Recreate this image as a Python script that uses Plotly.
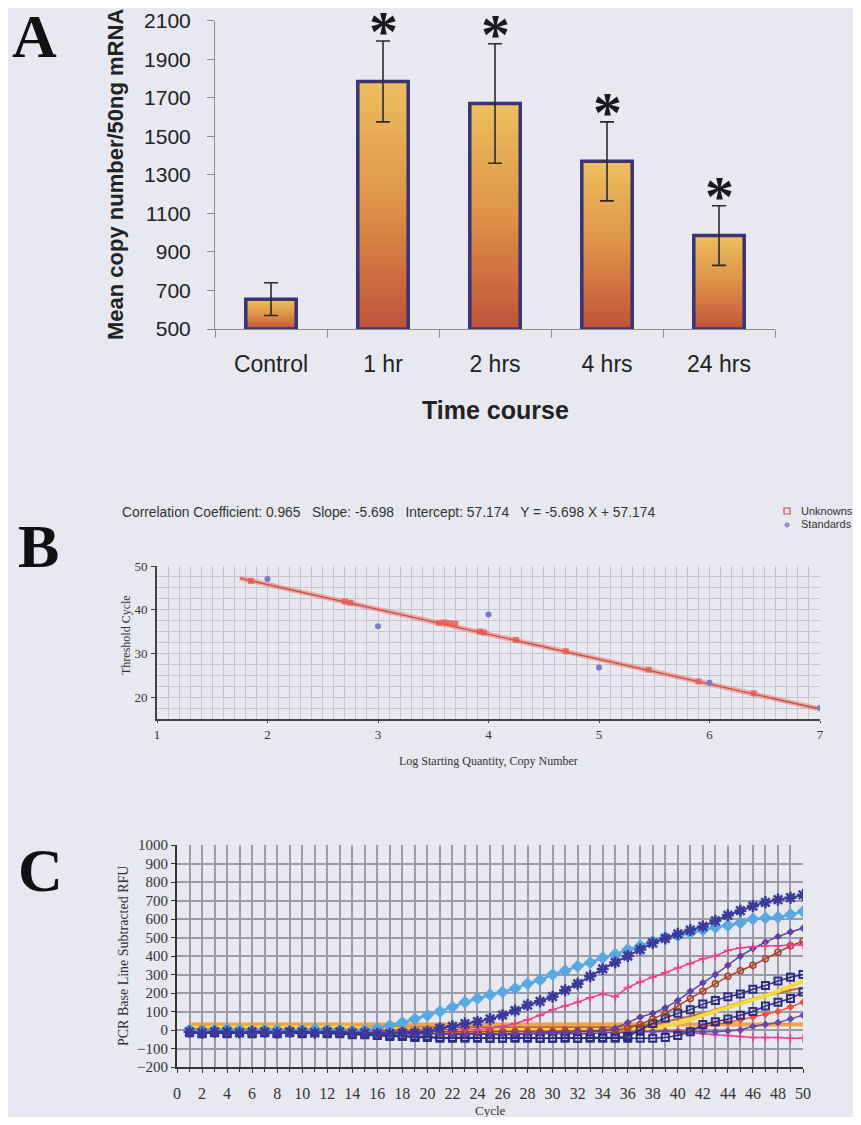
import plotly.graph_objects as go

# ---------------- Panel A data ----------------
categories = ["Control", "1 hr", "2 hrs", "4 hrs", "24 hrs"]
mean_copy = [655, 1785, 1670, 1370, 985]
sem_copy = [85, 210, 310, 205, 155]
significant = [False, True, True, True, True]
a_yticks = [500, 700, 900, 1100, 1300, 1500, 1700, 1900, 2100]

# ---------------- Panel B data ----------------
corr_coef = 0.965
slope = -5.698
intercept = 57.174
std_x = [2, 3, 4, 5, 6, 7]
std_y = [47.0, 36.2, 38.9, 26.8, 23.3, 17.5]
unk_x = [1.85, 2.7, 2.75, 3.55, 3.6, 3.65, 3.7, 3.92, 3.96, 4.25, 4.7, 5.45, 5.9, 6.4]
unk_y = [46.6, 41.9, 41.6, 37.0, 37.1, 36.9, 36.8, 35.0, 34.8, 33.1, 30.5, 26.3, 23.6, 20.9]
fit_x = [1.75, 7.0]

# ---------------- Panel C data ----------------
cycles = list(range(1, 51))
rfu_lightblue = [0, -5, 0, 5, 0, -5, 0, 0, -5, 0, 5, 0, 0, -5, 0,
                 10, 25, 40, 60, 80, 100, 125, 150, 170, 190, 205, 225, 250, 270, 300,
                 320, 345, 365, 390, 410, 435, 455, 480, 500, 510, 525, 540, 555, 565, 580,
                 600, 605, 610, 625, 640]
rfu_navystar = [-10, -15, -10, -10, -15, -10, -10, -15, -10, -10, -15, -10, -10, -15, -15,
                -20, -20, -15, -15, -10,
                10, 20, 35, 45, 60, 80, 105, 135, 155, 180, 215, 250, 290, 330, 365,
                400, 435, 470, 495, 520, 540, 560, 590, 620, 645, 670, 690, 705, 715, 730]
rfu_pinkrise = [5, 0, 0, 5, 0, 0, 5, 0, 0, 0, 5, 0, 0, 0, 5, 0, 0, 0, 0, 0, 5, 0, 5, 0,
                10, 20, 35, 55, 80, 110, 130, 150, 175, 195, 180, 230, 260, 285, 310,
                335, 360, 385, 400, 430, 445, 450, 455, 455, 460, 460]
rfu_purple = [-10, -10, -5, -10, -10, -5, -10, -10, -10, -5,
              -10, -10, -10, -5, -10, -15, -15, -20, -20, -20,
              -20, -25, -25, -20, -20, -20, -20, -20, -15, -15,
              -15, -10, -10, -5,
              10, 40, 70, 90, 120, 160, 210, 255, 300, 350, 400, 440, 475, 505, 530, 550]
rfu_brown = [0, 5, 0, 0, 5, 0, 0, 5, 0, 0,
             0, 5, 0, 0, 0, -5, -5, -5, -10, -10,
             -10, -10, -10, -10, -10, -10, -10, -10, -10, -10,
             -5, -5, -5, 0, 0, 10,
             30, 60, 90, 130, 170, 210, 250, 290, 320, 350, 385, 420, 455, 480]
rfu_square1 = [-10, -15, -10, -15, -10, -15, -10, -15, -10, -15,
               -10, -15, -15, -20, -20, -25, -30, -30, -35, -35,
               -40, -40, -40, -40, -45, -45, -40, -40, -45, -45,
               -40, -45, -40, -40, -40, -35, 0, 35, 65, 90,
               110, 140, 160, 180, 195, 220, 240, 265, 285, 300]
rfu_square2 = [-15, -20, -15, -20, -15, -20, -15, -20, -15, -20,
               -15, -20, -20, -25, -25, -30, -35, -35, -40, -40,
               -45, -45, -45, -45, -45, -45, -45, -45, -45, -45,
               -45, -45, -45, -45, -45, -45, -45, -45, -40, -30,
               -10, 30, 45, 60, 80, 100, 130, 150, 170, 205]
rfu_yellow = [15, 10, 15, 10, 15, 10, 15, 10, 15, 10,
              15, 10, 15, 10, 10, 5, 5, 5, 0, 0,
              0, -5, -5, -5, -5, -5, -5, -5, -5, -5,
              -5, -5, 0, 0, 0, 5, 5,
              10, 20, 35, 55, 80, 100, 120, 140, 160, 185, 210, 240, 265]
rfu_redorange = [0, 5, 0, 0, 0, 5, 0, 0, 0, 0,
                 0, 0, 5, 0, 0, -5, -5, -5, -5, -5,
                 -10, -10, -10, -10, -5, -5, -5, -5, -5, -5,
                 -5, -5, -5, -5, -5, -5, -5, -5, -5, -5,
                 0, 20, 30, 40, 55, 70, 85, 100, 125, 150]
rfu_purplelow = [-10, -5, -10, -5, -10, -5, -10, -5, -10, -5,
                 -10, -5, -10, -10, -15, -15, -15, -20, -20, -20,
                 -20, -20, -20, -20, -25, -25, -25, -20, -20, -20,
                 -20, -20, -20, -15, -15, -15, -10, -10, -10, -10,
                 -10, -10, -10, -5, 0, 20, 30, 40, 60, 80]
rfu_pinkdown = [0, 0, 5, 0, 0, 5, 0, 0, 5, 0,
                0, 5, 0, 0, 5, 0, 0, 0, 0, 0,
                0, 0, -5, -5, -5, -5, -5, -5, -5, -5,
                -5, -5, -5, -5, -5, -5, -5, -5, -5, -10,
                -15, -20, -25, -30, -35, -40, -40, -40, -45, -45]
rfu_orangeflat = [30, 30, 30, 30, 30, 30, 30, 30, 30, 30,
                  30, 30, 30, 30, 30, 25, 25, 25, 25, 25,
                  25, 25, 25, 25, 25, 25, 25, 25, 25, 25,
                  25, 25, 25, 25, 25, 25, 25, 25, 25, 25,
                  25, 25, 25, 25, 25, 25, 30, 30, 30, 30]
rfu_darkorange = [15, 15, 15, 15, 15, 15, 15, 15, 15, 15,
                  15, 15, 15, 15, 15, 15, 15, 15, 15, 15,
                  15, 15, 15, 15, 15, 15, 15, 15, 15, 15,
                  15, 15, 15, 15, 15, 20, 25, 30, 45, 60,
                  75, 90, 110, 130, 150, 170, 185, 200, 215, 230]

# ---------------- helpers ----------------
# page body has an 8px margin, so the figure is drawn 16px smaller than the window
OFF = 8
W, H = 861 - 2 * OFF, 1125 - 2 * OFF
BG = "#e8e8f0"


def px_x(x):
    return (x - OFF) / W


def px_y(y):
    return 1 - (y - OFF) / H


def lerp_color(f):
    stops = [(0.0, (192, 82, 58)), (0.5, (222, 146, 72)), (1.0, (236, 192, 94))]
    for (f0, c0), (f1, c1) in zip(stops[:-1], stops[1:]):
        if f0 <= f <= f1:
            t = (f - f0) / (f1 - f0)
            return "rgb(%d,%d,%d)" % tuple(round(a + (b - a) * t) for a, b in zip(c0, c1))
    return "rgb(%d,%d,%d)" % stops[-1][1]


fig = go.Figure()

# ---------------- Panel A ----------------
a_base = a_yticks[0]
N = 40
for k in range(N):
    lo = k / N
    hi = min(k + 1.8, N) / N
    fig.add_trace(go.Bar(
        x=categories,
        y=[(v - a_base) * (hi - lo) for v in mean_copy],
        base=[a_base + (v - a_base) * lo for v in mean_copy],
        width=0.45,
        marker=dict(color=lerp_color((k + 0.5) / N), line=dict(width=0)),
        xaxis="x", yaxis="y", hoverinfo="skip", showlegend=False))
fig.add_trace(go.Bar(
    x=categories, y=[v - a_base for v in mean_copy], base=a_base, width=0.45,
    marker=dict(color="rgba(0,0,0,0)", line=dict(color="#3b3275", width=3.5)),
    xaxis="x", yaxis="y", showlegend=False))
fig.add_trace(go.Scatter(
    x=categories, y=mean_copy, mode="markers", marker=dict(opacity=0),
    error_y=dict(type="data", array=sem_copy, color="#2a2a2a", thickness=1.6, width=7),
    xaxis="x", yaxis="y", showlegend=False))

annotations = []
for c, v, e, s in zip(categories, mean_copy, sem_copy, significant):
    if s:
        annotations.append(dict(x=c, y=v + e, xref="x", yref="y", text="<b>*</b>",
                                showarrow=False, xanchor="center", yanchor="bottom", yshift=-25,
                                font=dict(family="Liberation Serif", size=58, color="#1a1a1a")))

# ---------------- Panel B ----------------
fit_y = [slope * x + intercept for x in fit_x]
fig.add_trace(go.Scatter(x=fit_x, y=fit_y, mode="lines",
                         line=dict(color="rgba(240,120,110,0.55)", width=5),
                         xaxis="x2", yaxis="y2", showlegend=False))
fig.add_trace(go.Scatter(x=fit_x, y=fit_y, mode="lines",
                         line=dict(color="#c0504a", width=1.4),
                         xaxis="x2", yaxis="y2", showlegend=False))
fig.add_trace(go.Scatter(x=unk_x, y=unk_y, mode="markers",
                         marker=dict(symbol="square", size=6, color="rgba(230,90,80,0.8)"),
                         xaxis="x2", yaxis="y2", showlegend=False))
fig.add_trace(go.Scatter(x=std_x, y=std_y, mode="markers",
                         marker=dict(symbol="circle", size=6, color="#7a78c8"),
                         xaxis="x2", yaxis="y2", showlegend=False))

# ---------------- Panel C ----------------
c_series = [
    (rfu_orangeflat, dict(color="rgba(240,150,50,0.85)", width=4), None),
    (rfu_darkorange, dict(color="#c8642c", width=2), None),
    (rfu_pinkdown, dict(color="#e0409a", width=1.5), dict(symbol="cross-thin-open", size=6, line=dict(width=1.5, color="#e0409a"))),
    (rfu_yellow, dict(color="#f0dc3c", width=4), None),
    (rfu_redorange, dict(color="#f0503c", width=1.5), dict(symbol="diamond", size=6, color="#f0503c")),
    (rfu_purplelow, dict(color="#6a4aa8", width=1.5), dict(symbol="diamond", size=6, color="#6a4aa8")),
    (rfu_square2, dict(color="#2c2c80", width=1.5), dict(symbol="square-open", size=7, line=dict(width=2, color="#2c2c80"))),
    (rfu_square1, dict(color="#2c2c80", width=1.5), dict(symbol="square-open", size=7, line=dict(width=2, color="#2c2c80"))),
    (rfu_brown, dict(color="#a8402c", width=1.5), dict(symbol="circle-open", size=6, line=dict(width=1.5, color="#a8402c"))),
    (rfu_purple, dict(color="#6040a0", width=1.5), dict(symbol="diamond", size=6, color="#6040a0")),
    (rfu_pinkrise, dict(color="#e8408c", width=1.5), dict(symbol="cross-thin-open", size=6, line=dict(width=1.5, color="#e8408c"))),
    (rfu_lightblue, dict(color="#5aa8e0", width=2.5), dict(symbol="diamond", size=10, color="#5aa8e0")),
    (rfu_navystar, dict(color="#3a3a9a", width=2), dict(symbol="asterisk-open", size=10, line=dict(width=2.5, color="#3a3a9a"))),
]
for vals, line, marker in c_series:
    fig.add_trace(go.Scatter(x=cycles, y=vals, mode="lines+markers" if marker else "lines",
                             line=line, marker=marker or {}, xaxis="x3", yaxis="y3",
                             showlegend=False))


# ---------------- text ----------------
def label(x, y, text, font, angle=0, xanchor="center"):
    return dict(x=px_x(x), y=px_y(y), xref="paper", yref="paper", text=text, textangle=angle,
                showarrow=False, xanchor=xanchor, yanchor="middle", font=font)


letter_font = dict(family="Liberation Serif", size=62, color="#111")
narrow = dict(family="Liberation Sans Narrow, Liberation Sans", size=13.8, color="#333")
legend_font = dict(family="Liberation Sans Narrow, Liberation Sans", size=11, color="#333")
serif12 = dict(family="Liberation Serif", size=12, color="#333")
serif14 = dict(family="Liberation Serif", size=14, color="#333")

annotations += [
    label(34, 36, "<b>A</b>", letter_font),
    label(38, 546, "<b>B</b>", letter_font),
    label(40, 870, "<b>C</b>", letter_font),
    label(115, 175, "<b>Mean copy number/50ng mRNA</b>",
          dict(family="Liberation Sans", size=22, color="#222"), angle=-90),
    label(495, 410, "<b>Time course</b>", dict(family="Liberation Sans", size=25, color="#222")),
    label(120, 512, "Correlation Coefficient: %.3f   Slope: %.3f   Intercept: %.3f   Y = %.3f X + %.3f"
          % (corr_coef, slope, intercept, slope, intercept), narrow, xanchor="left"),
    label(799, 511, "Unknowns", legend_font, xanchor="left"),
    label(799, 524, "Standards", legend_font, xanchor="left"),
    label(126, 635, "Threshold Cycle", serif12, angle=-90),
    label(488, 761, "Log Starting Quantity, Copy Number", serif12),
    label(123, 956, "PCR Base Line Subtracted RFU", serif14, angle=-90),
    label(490, 1110, "Cycle", dict(family="Liberation Serif", size=13, color="#333")),
]

shapes = [
    dict(type="rect", xref="paper", yref="paper", x0=px_x(784), x1=px_x(790), y0=px_y(514), y1=px_y(508),
         line=dict(color="#d04050", width=1.2), fillcolor="rgba(0,0,0,0)"),
    dict(type="circle", xref="paper", yref="paper", x0=px_x(785), x1=px_x(789), y0=px_y(527), y1=px_y(523),
         line=dict(color="#7a78c8", width=1), fillcolor="#9a98d8"),
]

cat_tick = dict(family="Liberation Sans", size=23, color="#222")
val_tick = dict(family="Liberation Sans", size=21, color="#222")
serif_tick = dict(family="Liberation Serif", size=13, color="#333")

fig.update_layout(
    width=W, height=H, margin=dict(l=0, r=0, t=0, b=0, autoexpand=False),
    paper_bgcolor=BG, plot_bgcolor=BG, barmode="overlay", showlegend=False,
    annotations=annotations, shapes=shapes,
    xaxis=dict(domain=[px_x(215), px_x(775)], anchor="y", type="category", automargin=False,
               showline=True, linecolor="#8a8a8a", linewidth=1, ticks="outside", tickson="boundaries",
               ticklen=8, tickcolor="#8a8a8a", tickfont=cat_tick, ticklabelstandoff=14, showgrid=False),
    yaxis=dict(domain=[px_y(329), px_y(20.7)], anchor="x", range=[a_yticks[0], a_yticks[-1]],
               tickvals=a_yticks, showline=True, linecolor="#8a8a8a", linewidth=1, ticks="outside",
               ticklen=7, tickcolor="#8a8a8a", tickfont=val_tick, ticklabelstandoff=12,
               showgrid=False, zeroline=False, automargin=False),
    xaxis2=dict(domain=[px_x(157), px_x(820)], anchor="y2", range=[1, 7], dtick=1, automargin=False,
                showline=True, linecolor="#444", linewidth=2, ticks="outside", ticklen=2, tickcolor="#444",
                showgrid=True, gridcolor="#c4c4cc", gridwidth=1,
                minor=dict(dtick=0.1, showgrid=True, gridcolor="#c4c4cc", gridwidth=1),
                tickfont=serif_tick, ticklabelstandoff=0, zeroline=False),
    yaxis2=dict(domain=[px_y(719), px_y(566)], anchor="x2", range=[15, 50], tickvals=[20, 30, 40, 50],
                showline=True, linecolor="#444", linewidth=2, ticks="outside", ticklen=4, tickcolor="#444",
                showgrid=True, gridcolor="#c4c4cc", gridwidth=1, automargin=False,
                minor=dict(dtick=2.5, tick0=15, showgrid=True, gridcolor="#c4c4cc", gridwidth=1),
                tickfont=serif_tick, ticklabelstandoff=1, zeroline=False),
    xaxis3=dict(domain=[px_x(177), px_x(803)], anchor="y3", range=[0, 50], dtick=2, automargin=False,
                showline=True, linecolor="#333", linewidth=2, ticks="outside", ticklen=4, tickcolor="#333",
                showgrid=True, gridcolor="#9c9ca6", gridwidth=1.5,
                minor=dict(dtick=1, showgrid=True, gridcolor="#9c9ca6", gridwidth=1.5, ticks="outside",
                           ticklen=3, tickcolor="#333"),
                tickfont=dict(family="Liberation Serif", size=16, color="#333"), ticklabelstandoff=7,
                zeroline=False),
    yaxis3=dict(domain=[px_y(1067), px_y(845)], anchor="x3", range=[-200, 1000], dtick=100,
                showline=True, linecolor="#333", linewidth=2, ticks="outside", ticklen=4, tickcolor="#333",
                showgrid=True, gridcolor="#9c9ca6", gridwidth=1.5, automargin=False,
                tickfont=dict(family="Liberation Serif", size=15, color="#333"), ticklabelstandoff=0,
                zeroline=False),
    yaxis4=dict(overlaying="y3", side="right", anchor="x3", range=[-200, 1000], dtick=100,
                showline=True, linecolor="#333", linewidth=2, ticks="outside", ticklen=4, tickcolor="#333",
                showgrid=False, zeroline=False, automargin=False,
                tickfont=dict(family="Liberation Serif", size=15, color="#333"), ticklabelstandoff=0),
)

fig.write_html("out.html")
